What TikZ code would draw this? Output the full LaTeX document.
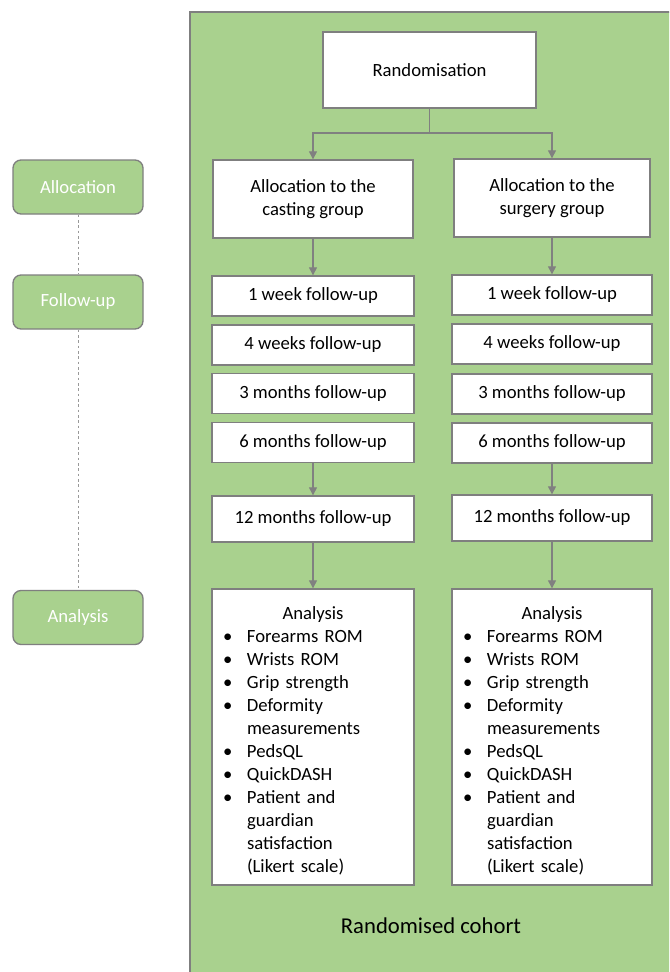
\documentclass[tikz,border=0pt]{standalone}
\usepackage{fontspec}
\setmainfont{Carlito}
\usetikzlibrary{arrows.meta}
\definecolor{bggreen}{HTML}{A9D18E}
\definecolor{edgegray}{HTML}{7F7F7F}
\definecolor{linegray}{HTML}{808080}
\tikzset{
  wbox/.style={draw=edgegray, line width=1pt, fill=white, inner sep=0pt, align=center,
    font=\fontsize{14}{17.25}\selectfont},
  fbox/.style={wbox, minimum width=151.5pt, minimum height=30pt},
  gbox/.style={draw=edgegray, line width=1pt, fill=bggreen, rounded corners=6pt, text=white,
    inner sep=0pt, minimum width=97.5pt, minimum height=40.5pt, font=\fontsize{14}{17.25}\selectfont},
  abox/.style={draw=edgegray, line width=1pt, fill=white, inner sep=0pt, text width=151.5pt,
    minimum height=222pt, font=\fontsize{14}{17.25}\selectfont},
  conn/.style={draw=linegray, line width=0.8pt},
  arr/.style={conn, -{Triangle[width=6pt,length=6pt]}},
  dashline/.style={draw=linegray!80, line width=0.6pt, dash pattern=on 2pt off 2pt},
}
\newcommand\bul[1]{\noindent\llap{\textbullet\hspace{11pt}}\mbox{#1}\par}
\newcommand\cont[1]{\noindent\mbox{#1}\par}
\newcommand\analysistext{%
  {\centering\rule{0pt}{15.5pt}Analysis\par}%
  \leftskip=26.25pt \rightskip=0pt plus 1fil \parindent=0pt \parskip=0pt
  \bul{Forearms ROM}
  \bul{Wrists ROM}
  \bul{Grip strength}
  \bul{Deformity}
  \cont{measurements}
  \bul{PedsQL}
  \bul{QuickDASH}
  \bul{Patient and}
  \cont{guardian}
  \cont{satisfaction}
  \cont{(Likert scale)}}
\begin{document}
\begin{tikzpicture}[x=0.75pt,y=-0.75pt]
\useasboundingbox (0,0) rectangle (669,972);
\clip (0,0) rectangle (669,972);
\fill[white] (0,0) rectangle (669,972);
% cohort background
\draw[draw=edgegray, line width=1.2pt, fill=bggreen] (190,12) rectangle (700,1000);
\node[font=\fontsize{17}{20}\selectfont] (cohort) at (431,926) {Randomised cohort};

% main column
\node[wbox, minimum width=159.75pt, minimum height=57pt] (rand) at (429.5,70) {Randomisation};
\node[wbox, minimum width=150pt, minimum height=58.5pt] (cast) at (313,199) {Allocation to the\\casting group};
\node[wbox, minimum width=147pt, minimum height=58.5pt] (surg) at (552,198) {Allocation to the\\surgery group};

\node[fbox] (L1) at (313,296) {1 week follow-up};
\node[fbox] (L4) at (313,345) {4 weeks follow-up};
\node[fbox] (L3) at (313,393.5) {3 months follow-up};
\node[fbox] (L6) at (313,442.5) {6 months follow-up};
\node[fbox, minimum height=34.5pt] (L12) at (313,519) {12 months follow-up};
\node[abox] (LA) at (313,737) {\analysistext};

\node[fbox, minimum width=150pt] (R1) at (552,295) {1 week follow-up};
\node[fbox, minimum width=150pt] (R4) at (552,344) {4 weeks follow-up};
\node[fbox, minimum width=150pt] (R3) at (552,394) {3 months follow-up};
\node[fbox, minimum width=150pt] (R6) at (552,443) {6 months follow-up};
\node[fbox, minimum width=150pt, minimum height=34.5pt] (R12) at (552,518) {12 months follow-up};
\node[abox, text width=150pt] (RA) at (552,737) {\analysistext};

% connectors
\coordinate (split) at (429.5,133);
\draw[conn] (rand.south) -- (split);
\draw[arr] (split) -| (cast.north);
\draw[arr] (split) -| (surg.north);
\draw[arr] (cast.south) -- (L1.north);
\draw[arr] (surg.south) -- (R1.north);
\draw[arr] (L6.south) -- (L12.north);
\draw[arr] (R6.south) -- (R12.north);
\draw[arr] (L12.south) -- (LA.north);
\draw[arr] (R12.south) -- (RA.north);

% phase labels
\node[gbox] (alloc) at (78,187) {Allocation};
\node[gbox] (follow) at (78,302) {Follow-up};
\node[gbox] (anal) at (78,617.5) {Analysis};
\draw[dashline] (alloc.south) -- (follow.north);
\draw[dashline] (follow.south) -- (anal.north);
\end{tikzpicture}
\end{document}
